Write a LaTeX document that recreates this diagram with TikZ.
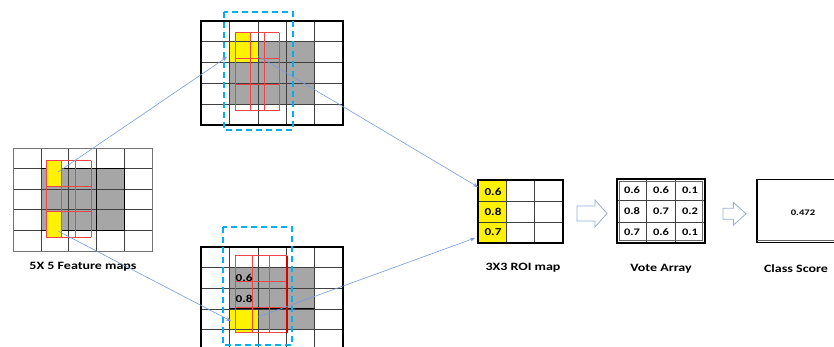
\documentclass[tikz,border=0pt]{standalone}
\usepackage{fontspec}
\setmainfont{Carlito}
\usetikzlibrary{arrows.meta}
\definecolor{cellgray}{RGB}{166,166,166}
\definecolor{cyanb}{RGB}{0,176,240}
\definecolor{linkblue}{RGB}{120,155,220}
\definecolor{hollowc}{RGB}{150,175,215}
\definecolor{redl}{RGB}{238,70,70}
\newcommand{\sxt}[1]{\scalebox{1.25}[1]{#1}}
\tikzset{
  gridln/.style={line width=0.6pt, draw=black!75},
  outerthick/.style={line width=1.6pt, draw=black},
  redgrid/.style={line width=1pt, draw=redl},
  roi/.style={line width=1.8pt, draw=cyanb, dash pattern=on 6pt off 4pt},
  link/.style={draw=linkblue, line width=0.6pt, -{Stealth[length=5pt,width=4pt]}},
  lbl/.style={inner sep=0pt, font=\fontsize{11.2}{13}\selectfont\bfseries},
  num/.style={inner sep=0pt, font=\fontsize{10.6}{12}\selectfont\bfseries},
  vnum/.style={inner sep=0pt, font=\fontsize{10}{12}\selectfont\bfseries},
  hollowarrow/.style={draw=hollowc, line width=0.8pt, fill=white},
}
\begin{document}
\begin{tikzpicture}[x=1pt,y=-1pt]
\useasboundingbox (0,0) rectangle (834,347);
\clip (0,0) rectangle (834,347);
\fill[white] (0,0) rectangle (834,347);

% ---------- left 5x5 feature map ----------
\fill[cellgray] (40.8,168.6) rectangle (124.2,230.4);
\foreach \i in {0,...,5} \draw[gridln] ({13+27.8*\i},148) -- ({13+27.8*\i},251);
\foreach \j in {0,...,5} \draw[gridln] (13,{148+20.6*\j}) -- (152,{148+20.6*\j});
\draw[line width=0.9pt, black] (40.8,168.6) -- (124.2,168.6) -- (124.2,230.4) -- (40.8,230.4);
\draw[line width=1pt, black] (96.4,168.6) -- (96.4,230.4);
\draw[line width=0.8pt, black!55] (13,148) rectangle (152,251);
\fill[yellow] (46,161) rectangle (61,187);
\fill[yellow] (46,212) rectangle (61,237);
\foreach \x in {46,61,75,91} {\draw[redgrid] (\x,161) -- (\x,237);}
\foreach \y in {161,187,212,237} {\draw[redgrid] (46,\y) -- (91,\y);}
\node[lbl] (lblfeat) at (83,267) {\sxt{5X 5 Feature maps}};

% ---------- top map ----------
\fill[cellgray] (229.4,41.8) rectangle (314.6,104.2);
\fill[yellow] (229.4,41.8) rectangle (257.8,62.6);
\fill[yellow] (235.5,33) rectangle (250,62.6);
\foreach \i in {0,...,5} \draw[gridln] ({201+28.4*\i},21) -- ({201+28.4*\i},125);
\foreach \j in {0,...,5} \draw[gridln] (201,{21+20.8*\j}) -- (343,{21+20.8*\j});
\draw[outerthick] (201,21) rectangle (343,125);
\foreach \x in {235,250,264,279} {\draw[redgrid] (\x,33) -- (\x,111);}
\foreach \y in {33,59,85,111} {\draw[redgrid] (235,\y) -- (279,\y);}
\draw[roi] (224,12) rectangle (293,130);

% ---------- bottom map ----------
\fill[cellgray] (229.4,267.6) rectangle (314.6,329.4);
\fill[yellow] (229.4,308.8) rectangle (257.8,329.4);
\fill[yellow] (235.5,308) rectangle (252.5,332);
\foreach \i in {0,...,5} \draw[gridln] ({201+28.4*\i},247) -- ({201+28.4*\i},350);
\foreach \j in {0,...,5} \draw[gridln] (201,{247+20.6*\j}) -- (343,{247+20.6*\j});
\draw[line width=1pt, black] (229.4,308.8) -- (314.6,308.8);
\draw[outerthick] (201,247) rectangle (343,350);
\foreach \x in {235,252.7,269.3,286.7} {\draw[redgrid] (\x,255.7) -- (\x,332.7);}
\foreach \y in {255.7,281,307.7,332.7} {\draw[redgrid] (235,\y) -- (286.7,\y);}
\draw[line width=1.8pt, draw=red!85!black] (286.7,255.7) -- (286.7,332.7);
\node[num, anchor=west] (b06) at (235.5,278) {\sxt{0.6}};
\node[num, anchor=west] (b08) at (235.5,299) {\sxt{0.8}};
\draw[roi] (223,227) rectangle (292,345);

% ---------- ROI map ----------
\fill[yellow] (478,180) rectangle (506.5,243);
\foreach \x in {506.5,534.5} \draw[gridln] (\x,180) -- (\x,243);
\foreach \y in {201,222} \draw[gridln] (478,\y) -- (563,\y);
\draw[line width=1.5pt, black] (478,180) rectangle (563,243);
\node[num] (r1) at (493,191.5) {\sxt{0.6}};
\node[num] (r2) at (493,212) {\sxt{0.8}};
\node[num] (r3) at (493,232.5) {\sxt{0.7}};
\node[lbl] (lblroi) at (523,268) {\sxt{3X3 ROI map}};

% ---------- Vote array ----------
\foreach \x in {646.5,675.5} \draw[gridln] (\x,179) -- (\x,243);
\foreach \y in {200.5,222} \draw[gridln] (617,\y) -- (705,\y);
\draw[line width=1.5pt, black] (617,179) rectangle (705,243);
\draw[line width=0.5pt, black!60] (619.5,181.5) rectangle (702.5,240.5);
\node[vnum] (v11) at (632,189.8) {\sxt{0.6}};
\node[vnum] (v12) at (661,189.8) {\sxt{0.6}};
\node[vnum] (v13) at (690,189.8) {\sxt{0.1}};
\node[vnum] (v21) at (632,211.3) {\sxt{0.8}};
\node[vnum] (v22) at (661,211.3) {\sxt{0.7}};
\node[vnum] (v23) at (690,211.3) {\sxt{0.2}};
\node[vnum] (v31) at (632,232.5) {\sxt{0.7}};
\node[vnum] (v32) at (661,232.5) {\sxt{0.6}};
\node[vnum] (v33) at (690,232.5) {\sxt{0.1}};
\node[lbl] (lblvote) at (661,269) {\sxt{Vote Array}};

% ---------- Class score ----------
\draw[line width=1.5pt, black] (757,179.5) rectangle (850,242.5);
\draw[line width=0.5pt, black!60] (757,240) -- (850,240);
\node[inner sep=0pt, font=\fontsize{8.5}{10}\selectfont\bfseries] (score) at (803,213) {\sxt{0.472}};
\node[lbl] (lblclass) at (796,269) {\sxt{Class Score}};

% ---------- hollow arrows ----------
\draw[hollowarrow] (577,206) -- (595,206) -- (595,200) -- (607,213.5) -- (595,227) -- (595,221) -- (577,221) -- cycle;
\draw[hollowarrow] (723,208.3) -- (733.5,208.3) -- (733.5,202.5) -- (746,213.8) -- (733.5,225) -- (733.5,219.3) -- (723,219.3) -- cycle;

% ---------- connectors ----------
\coordinate (s1) at (58,172);
\coordinate (t1) at (227,57);
\coordinate (s2) at (258,56);
\coordinate (t2) at (478,187);
\coordinate (s3) at (58,231);
\coordinate (t3) at (231,321);
\coordinate (s4) at (258,317);
\coordinate (t4) at (475,238);
\draw[link] (s1) -- (t1);
\draw[link] (s2) -- (t2);
\draw[link] (s3) -- (t3);
\draw[link] (s4) -- (t4);
\end{tikzpicture}
\end{document}
